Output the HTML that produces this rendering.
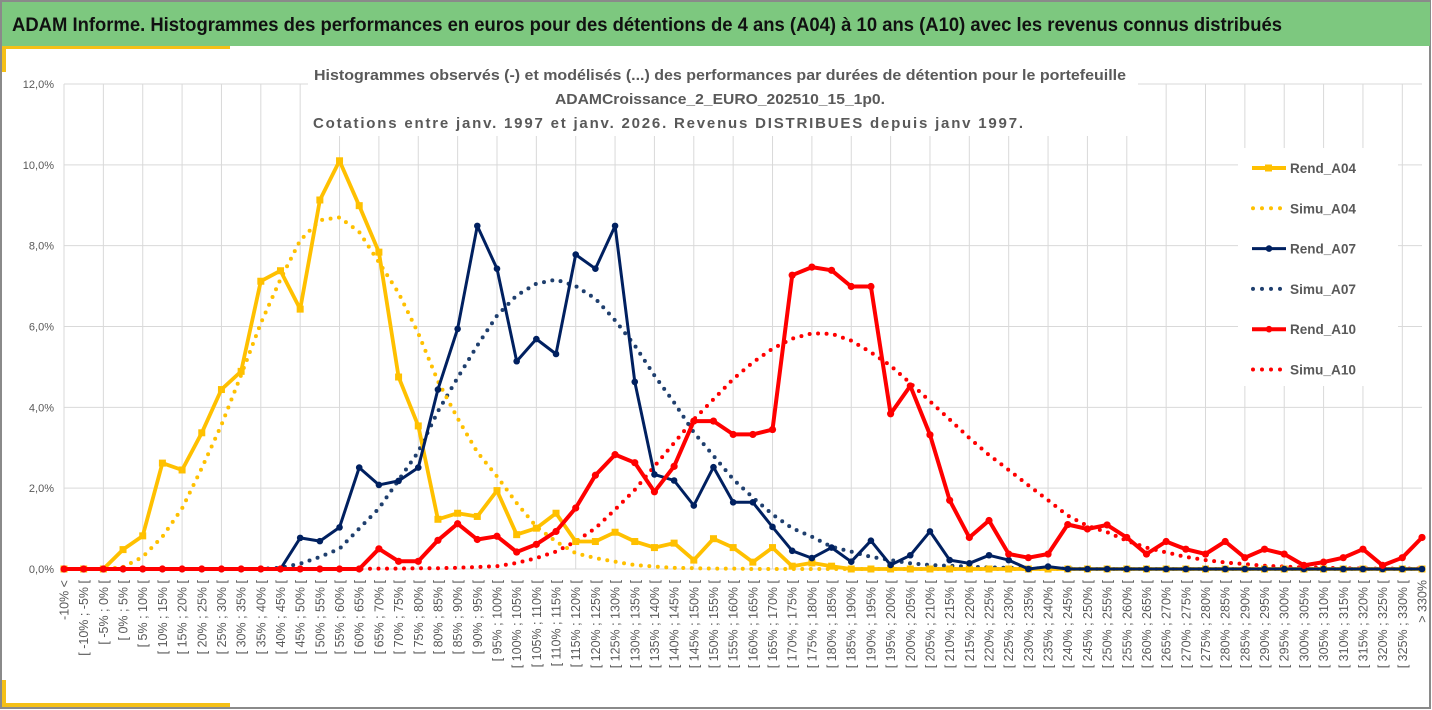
<!DOCTYPE html>
<html><head><meta charset="utf-8"><style>
html,body{margin:0;padding:0;background:#fff;}
body{width:1432px;height:710px;overflow:hidden;position:relative;font-family:"Liberation Sans",sans-serif;}
</style></head><body>
<svg id="chart" width="1432" height="710" viewBox="0 0 1432 710" xmlns="http://www.w3.org/2000/svg" style="position:absolute;left:0;top:0">
<rect x="1" y="1" width="1429" height="707" fill="#fff" stroke="#8a8a8a" stroke-width="2"/>
<rect x="2" y="2" width="1428" height="44" fill="#7dc87f"/>
<text x="12" y="31" font-family="Liberation Sans, sans-serif" font-weight="bold" font-size="19" fill="#111" textLength="1270" lengthAdjust="spacingAndGlyphs">ADAM Informe. Histogrammes des performances en euros pour des détentions de 4 ans (A04) à 10 ans (A10) avec les revenus connus distribués</text>
<rect x="2" y="46" width="228" height="3" fill="#f5c017"/>
<rect x="2" y="46" width="4" height="26" fill="#f5c017"/>
<rect x="2" y="703" width="228" height="4" fill="#f5c017"/>
<rect x="2" y="680" width="4" height="27" fill="#f5c017"/>
<g id="grid"></g>
<g id="yaxis"></g>
<g id="xaxis"></g>
<rect x="308" y="60" width="830" height="76" fill="#fff"/>
<g font-family="Liberation Sans, sans-serif" font-weight="bold" font-size="15" fill="#595959" text-anchor="middle">
<text x="720" y="80" textLength="812" lengthAdjust="spacingAndGlyphs">Histogrammes observés (-) et modélisés (...) des performances par durées de détention pour le portefeuille</text>
<text x="720" y="104" textLength="330" lengthAdjust="spacingAndGlyphs">ADAMCroissance_2_EURO_202510_15_1p0.</text>
<text x="668" y="128" textLength="710" lengthAdjust="spacing">Cotations entre janv. 1997 et janv. 2026. Revenus DISTRIBUES depuis janv 1997.</text>
</g>
<g id="series"></g>
<rect x="1238" y="148" width="160" height="238" fill="#fff"/>
<g id="legend"></g>
</svg>
<script>
const categories = (function(){const c=["-10% <"];c.push("[ -10% ; -5% [");c.push("[ -5% ; 0% [");for(let a=0;a<330;a+=5){c.push("[ "+a+"% ; "+(a+5)+"% [");}c.push("> 330%");return c;})();
const yTicks = [0,2,4,6,8,10,12];
const yTickLabels = ["0,0%","2,0%","4,0%","6,0%","8,0%","10,0%","12,0%"];
const rendA04 = [0,0,0,0.48,0.82,2.62,2.45,3.37,4.44,4.89,7.12,7.38,6.43,9.13,10.1,8.99,7.84,4.75,3.54,1.23,1.38,1.30,1.94,0.85,1.01,1.38,0.68,0.68,0.91,0.68,0.53,0.64,0.22,0.75,0.53,0.17,0.53,0.07,0.15,0.07,0,0,0,0,0,0,0,0,0,0,0,0,0,0,0,0,0,0,0,0,0,0,0,0,0,0,0,0,0,0];
const simuA04 = [0,0,0,0.05,0.3,0.8,1.5,2.5,3.56,4.8,6.08,7.17,8.13,8.63,8.7,8.34,7.59,6.83,5.83,4.65,3.73,2.89,2.29,1.63,1.05,0.68,0.39,0.27,0.18,0.1,0.06,0.03,0.02,0.01,0.01,0,0,0,0,0,0,0,0,0,0,0,0,0,0,0,0,0,0,0,0,0,0,0,0,0,0,0,0,0,0,0,0,0,0,0];
const rendA07 = [0,0,0,0,0,0,0,0,0,0,0,0,0.77,0.69,1.03,2.51,2.08,2.18,2.51,4.44,5.94,8.49,7.43,5.14,5.69,5.32,7.78,7.43,8.49,4.63,2.34,2.19,1.57,2.52,1.65,1.65,1.04,0.45,0.27,0.53,0.18,0.70,0.10,0.34,0.93,0.22,0.14,0.34,0.22,0,0.06,0,0,0,0,0,0,0,0,0,0,0,0,0,0,0,0,0,0,0];
const simuA07 = [0,0,0,0,0,0,0,0,0,0,0,0.03,0.13,0.3,0.5,1.0,1.5,2.2,2.9,3.9,4.73,5.53,6.27,6.77,7.06,7.16,7.0,6.69,6.15,5.53,4.79,4.12,3.38,2.8,2.22,1.77,1.35,1.01,0.8,0.55,0.43,0.3,0.22,0.14,0.1,0.08,0.06,0.04,0.03,0.02,0.01,0.01,0,0,0,0,0,0,0,0,0,0,0,0,0,0,0,0,0,0];
const rendA10 = [0,0,0,0,0,0,0,0,0,0,0,0,0,0,0,0,0.50,0.19,0.19,0.71,1.12,0.73,0.81,0.42,0.61,0.93,1.51,2.32,2.83,2.63,1.91,2.54,3.66,3.66,3.33,3.33,3.45,7.27,7.47,7.39,6.99,6.99,3.84,4.53,3.32,1.70,0.78,1.20,0.37,0.28,0.37,1.10,0.99,1.09,0.78,0.37,0.68,0.49,0.37,0.68,0.28,0.49,0.37,0.09,0.17,0.28,0.49,0.09,0.28,0.78];
const simuA10 = [0,0,0,0,0,0,0,0,0,0,0,0,0,0,0,0,0.01,0.01,0.02,0.02,0.03,0.05,0.07,0.15,0.27,0.43,0.68,1.01,1.47,1.96,2.54,3.12,3.7,4.2,4.7,5.11,5.45,5.7,5.83,5.82,5.65,5.36,5.03,4.6,4.15,3.7,3.24,2.82,2.45,2.07,1.70,1.32,1.07,0.91,0.70,0.53,0.41,0.30,0.22,0.16,0.12,0.08,0.06,0.04,0.03,0.02,0.01,0.01,0.01,0.01];
const legendLabels = ["Rend_A04","Simu_A04","Rend_A07","Simu_A07","Rend_A10","Simu_A10"];

const NS="http://www.w3.org/2000/svg";
const X0=64,X1=1422,Y0=569,YTOP=84,YMAX=12;
function xs(i){return X0+i*(X1-X0)/(categories.length-1);}
function ys(v){return Y0-(v/YMAX)*(Y0-YTOP);}
function mk(tag,attrs,parent){const e=document.createElementNS(NS,tag);for(const k in attrs)e.setAttribute(k,attrs[k]);parent.appendChild(e);return e;}

const grid=document.getElementById('grid');
yTicks.forEach(function(t){
  const l=mk('line',{x1:X0,x2:X1,y1:ys(t),y2:ys(t),stroke:'#d9d9d9','stroke-width':1},grid);
  
  
});
for(let i=0;i<categories.length;i+=2){
  const l=mk('line',{x1:xs(i),x2:xs(i),y1:YTOP,y2:Y0,stroke:'#d9d9d9','stroke-width':1},grid);
  
  
}
const yaxis=document.getElementById('yaxis');
yTicks.forEach(function(t,k){
  const tx=mk('text',{x:54,y:ys(t)+4,'text-anchor':'end','font-size':11,fill:'#595959','font-family':'Liberation Sans, sans-serif'},yaxis);
  tx.textContent=yTickLabels[k];
  
  
});
const xaxis=document.getElementById('xaxis');
categories.forEach(function(c,i){
  const x=xs(i)+4.5;
  const tx=mk('text',{x:x,y:580,'text-anchor':'end','font-size':12.5,fill:'#595959','font-family':'Liberation Sans, sans-serif',transform:'rotate(-90 '+x+' 580)'},xaxis);
  tx.textContent=c;
  
  
});

const series=document.getElementById('series');
function pts(arr){return arr.map(function(v,i){return xs(i).toFixed(1)+','+ys(v).toFixed(1);}).join(' ');}
function dotted(arr,color,name){
  const p=mk('polyline',{points:pts(arr),fill:'none',stroke:color,'stroke-width':4,'stroke-linecap':'round','stroke-dasharray':'0 8.5'},series);
  
  
}
function solid(arr,color,w,marker,r,name){
  const g=mk('g',{},series);
  
  
  mk('polyline',{points:pts(arr),fill:'none',stroke:color,'stroke-width':w,'stroke-linejoin':'round'},g);
  arr.forEach(function(v,i){
    let m;
    if(marker==='sq'){m=mk('rect',{x:xs(i)-r,y:ys(v)-r,width:2*r,height:2*r,fill:color},g);}
    else{m=mk('circle',{cx:xs(i),cy:ys(v),r:r,fill:color},g);}
    
    
  });
}
dotted(simuA10,'#ff0000','line-simu-a10');
dotted(simuA07,'#1f3f6e','line-simu-a07');
dotted(simuA04,'#ffc000','line-simu-a04');
solid(rendA04,'#ffc000',3.8,'sq',3.5,'line-rend-a04');
solid(rendA07,'#002060',3,'c',3.3,'line-rend-a07');
solid(rendA10,'#ff0000',4,'c',3.6,'line-rend-a10');

const legend=document.getElementById('legend');
const legColors=['#ffc000','#ffc000','#002060','#1f3f6e','#ff0000','#ff0000'];
const legSolid=[true,false,true,false,true,false];
legendLabels.forEach(function(lb,k){
  const y=168+k*40.3;
  const g=mk('g',{},legend);
  
  
  if(legSolid[k]){
    mk('line',{x1:1252,x2:1286,y1:y,y2:y,stroke:legColors[k],'stroke-width':k===2?3:4},g);
    if(k===0)mk('rect',{x:1265,y:y-3.5,width:7,height:7,fill:legColors[k]},g);
    else mk('circle',{cx:1269,cy:y,r:3.3,fill:legColors[k]},g);
  } else {
    mk('line',{x1:1253,x2:1281,y1:y,y2:y,stroke:legColors[k],'stroke-width':4,'stroke-linecap':'round','stroke-dasharray':'0 9'},g);
  }
  const t=mk('text',{x:1290,y:y+5,'font-size':14,'font-weight':'bold',fill:'#595959','font-family':'Liberation Sans, sans-serif',textLength:66,lengthAdjust:'spacingAndGlyphs'},g);
  t.textContent=lb;
});
</script>
</body></html>
